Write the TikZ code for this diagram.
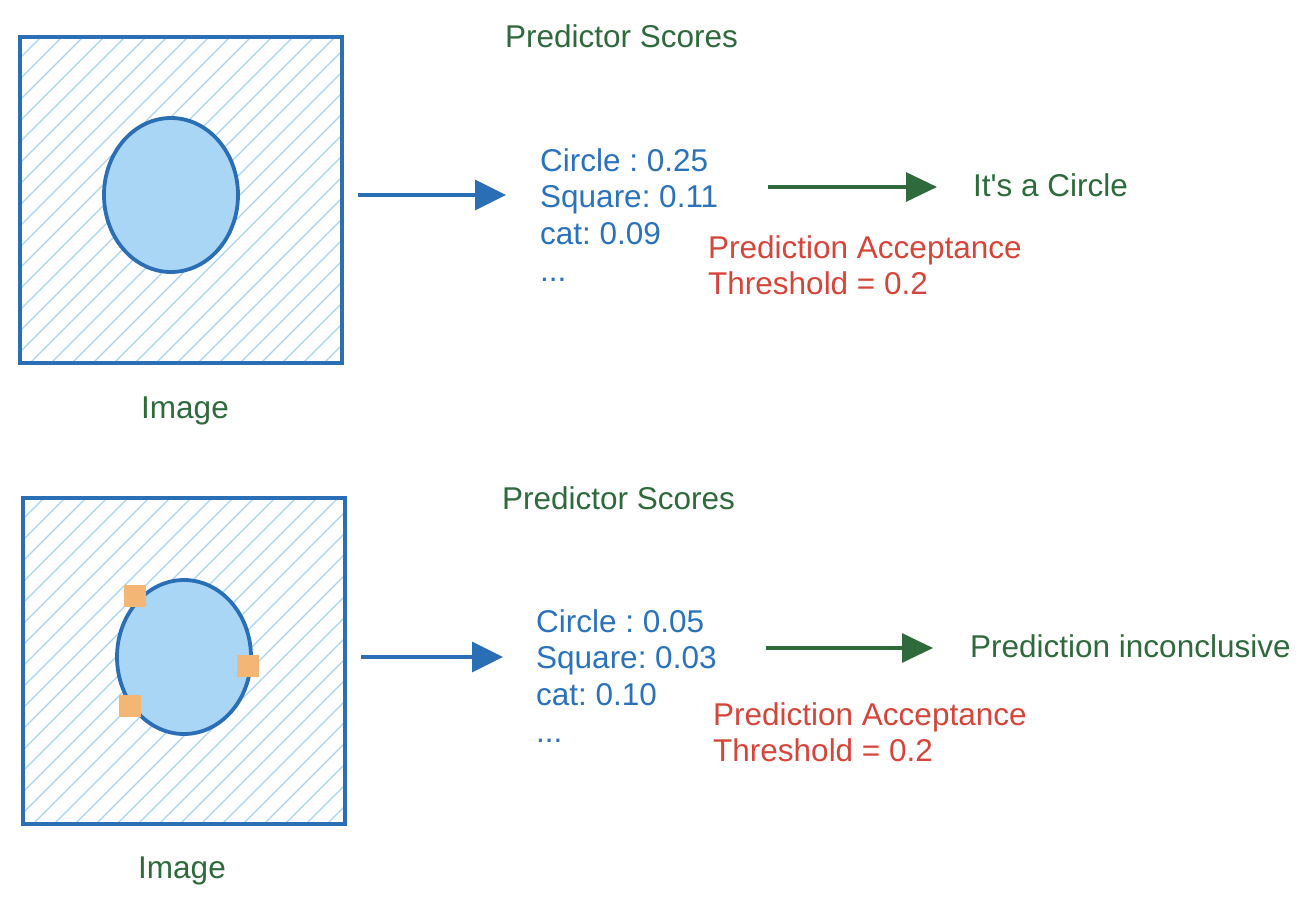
\documentclass[tikz,border=0pt]{standalone}
\usepackage{fontspec}
\setmainfont{Liberation Sans}[Ligatures=TeXOff]
\usetikzlibrary{arrows.meta,shapes.geometric}
\definecolor{lineblue}{HTML}{2A6FB6}
\definecolor{textblue}{HTML}{2A72BB}
\definecolor{fillblue}{HTML}{AAD6F5}
\definecolor{hatchblue}{HTML}{A9D3F2}
\definecolor{dgreen}{HTML}{2F6A3C}
\definecolor{dred}{HTML}{D6453A}
\definecolor{orng}{HTML}{F4B674}
\frenchspacing
\begin{document}
\begin{tikzpicture}[x=1pt,y=-1pt,
  lbl/.style={inner sep=0pt, anchor=base west, font=\fontsize{31.5}{37}\selectfont},
  greentxt/.style={lbl, text=dgreen},
  bluetxt/.style={lbl, text=textblue},
  redtxt/.style={lbl, text=dred},
  hatch/.style={draw=hatchblue, line width=1.3pt},
  imgbox/.style={draw=lineblue, line width=3.8pt, minimum width=322pt, minimum height=326pt, inner sep=0pt},
  blob/.style={ellipse, draw=lineblue, fill=fillblue, line width=3.8pt, minimum width=134pt, minimum height=154pt, inner sep=0pt},
  patch/.style={rectangle, fill=orng, minimum size=22pt, inner sep=0pt},
  bluearrow/.style={draw=lineblue, line width=3.2pt, -{Triangle[length=31pt,width=30pt]}},
  greenarrow/.style={draw=dgreen, line width=3.2pt, -{Triangle[length=31pt,width=29pt]}}
]
\useasboundingbox (0,0) rectangle (1314,907);
\fill[white] (0,0) rectangle (1314,907);

% ---------- top row ----------
\begin{scope}
  \clip (20,37) rectangle (342,363);
  \foreach \c in {0,21,...,672} \draw[hatch] (20+\c,37) -- (20,37+\c);
\end{scope}
\node[imgbox] (img1) at (181,200) {};
\node[blob] (c1) at (171,195) {};
\node[greentxt, anchor=base] (im1) at (185,418) {Image};

\node[greentxt] (ps1) at (505,48) {Predictor Scores};
\node[bluetxt] (s1a) at (540,171) {Circle : 0.25};
\node[bluetxt] (s1b) at (540,207) {Square: 0.11};
\node[bluetxt] (s1c) at (540,244) {cat: 0.09};
\node[bluetxt] (s1d) at (540,281) {...};
\node[redtxt] (r1a) at (708,258) {Prediction Acceptance};
\node[redtxt] (r1b) at (708,294) {Threshold = 0.2};
\node[greentxt] (o1) at (973,196) {It's a Circle};

\coordinate (a1s) at (358,195);
\coordinate (a1e) at (506,195);
\draw[bluearrow] (a1s) -- (a1e);
\coordinate (g1s) at (768,187);
\coordinate (g1e) at (937,187);
\draw[greenarrow] (g1s) -- (g1e);

% ---------- bottom row ----------
\begin{scope}
  \clip (23,498) rectangle (345,824);
  \foreach \c in {0,21,...,672} \draw[hatch] (23+\c,498) -- (23,498+\c);
\end{scope}
\node[imgbox] (img2) at (184,661) {};
\node[blob] (c2) at (184,657) {};
\node[patch] (p1) at (135,596) {};
\node[patch] (p2) at (248,666) {};
\node[patch] (p3) at (130,706) {};
\node[greentxt, anchor=base] (im2) at (182,878) {Image};

\node[greentxt] (ps2) at (502,509) {Predictor Scores};
\node[bluetxt] (s2a) at (536,632) {Circle : 0.05};
\node[bluetxt] (s2b) at (536,668) {Square: 0.03};
\node[bluetxt] (s2c) at (536,705) {cat: 0.10};
\node[bluetxt] (s2d) at (536,742) {...};
\node[redtxt] (r2a) at (713,725) {Prediction Acceptance};
\node[redtxt] (r2b) at (713,761) {Threshold = 0.2};
\node[greentxt] (o2) at (970,657) {Prediction inconclusive};

\coordinate (a2s) at (361,657);
\coordinate (a2e) at (503,657);
\draw[bluearrow] (a2s) -- (a2e);
\coordinate (g2s) at (766,648);
\coordinate (g2e) at (933,648);
\draw[greenarrow] (g2s) -- (g2e);
\end{tikzpicture}
\end{document}
